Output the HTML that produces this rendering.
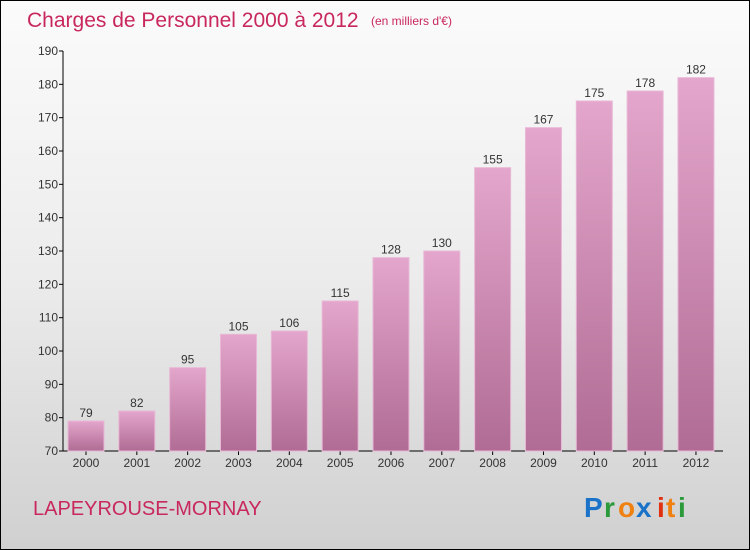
<!DOCTYPE html>
<html><head><meta charset="utf-8"><style>
body{margin:0}
#c{width:750px;height:550px;position:relative;box-sizing:border-box;border:1px solid #000;background:linear-gradient(#fbfbfb,#ececec 50%,#d0d0d0);font-family:"Liberation Sans",sans-serif;overflow:hidden}
</style></head><body>
<div id="c">
<svg width="750" height="550" style="position:absolute;left:0;top:0">
<defs><linearGradient id="bg" x1="0" y1="0" x2="0" y2="1"><stop offset="0" stop-color="#e4a6cc"/><stop offset="1" stop-color="#b06c94"/></linearGradient></defs>
<text x="26" y="26" font-size="21" fill="#c8285c">Charges de Personnel 2000 à 2012</text>
<text x="370" y="24" font-size="12" fill="#c8285c">(en milliers d'€)</text>
<g id="axes"></g><g id="bars"></g>
<text x="32" y="514" font-size="20" fill="#c8285c">LAPEYROUSE-MORNAY</text>
<g font-size="28" font-weight="bold">
<text x="583" y="516" fill="#1a73c8">P</text><text x="603" y="516" fill="#2a9a3a">r</text><text x="617" y="516" fill="#f08010">o</text><text x="635" y="516" fill="#1a73c8">x</text><text x="656" y="516" fill="#e03010">i</text><text x="665" y="516" fill="#f08010">t</text><text x="677" y="516" fill="#2a9a3a">i</text></g>
</svg>
</div>
<script>
const years=["2000","2001","2002","2003","2004","2005","2006","2007","2008","2009","2010","2011","2012"];
const values=[79,82,95,105,106,115,128,130,155,167,175,178,182];
const ticks=[70,80,90,100,110,120,130,140,150,160,170,180,190];
const NS="http://www.w3.org/2000/svg";
const y0=450,y1=50,vmin=70,vmax=190,x0=62,step=50.83,first=85,bw=36;
const yS=v=>y0-(v-vmin)/(vmax-vmin)*(y0-y1);
const xS=i=>first+i*step;
function mk(t,a,p){const e=document.createElementNS(NS,t);for(const k in a)e.setAttribute(k,a[k]);p.appendChild(e);return e;}
const ax=document.getElementById('axes'),bs=document.getElementById('bars');
const yl=mk('line',{x1:x0,y1:y1,x2:x0,y2:y0,stroke:'#000'},ax);


const xl=mk('line',{x1:x0,y1:y0,x2:722,y2:y0,stroke:'#000'},ax);


ticks.forEach(t=>{
 mk('line',{x1:x0-4,y1:yS(t),x2:x0,y2:yS(t),stroke:'#000'},ax);
 const tx=mk('text',{x:x0-5,y:yS(t)+4,'font-size':12,fill:'#333','text-anchor':'end'},ax);tx.textContent=t;
 
 
});
years.forEach((yr,i)=>{
 const v=values[i],x=xS(i);
 const r=mk('rect',{x:x-bw/2,y:yS(v),width:bw,height:y0-yS(v),fill:'url(#bg)',stroke:'#e8b8d6','stroke-width':1},bs);
 
 
 const lb=mk('text',{x:x,y:yS(v)-4,'font-size':12,fill:'#333','text-anchor':'middle'},bs);lb.textContent=v;
 
 
 mk('line',{x1:x,y1:y0,x2:x,y2:y0+4,stroke:'#000'},ax);
 const xt=mk('text',{x:x,y:y0+16,'font-size':12,fill:'#333','text-anchor':'middle'},ax);xt.textContent=yr;
 
 
});
</script>
</body></html>
